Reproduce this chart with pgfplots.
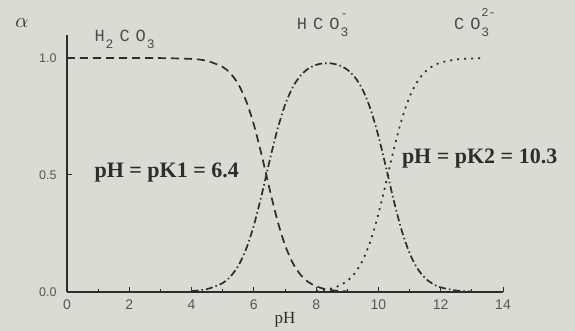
\documentclass[border=0pt]{standalone}
\usepackage{fontspec}
\setmainfont{Liberation Serif}
\setsansfont{Liberation Sans}
\newfontfamily\speciesfont{Liberation Mono}
\usepackage{pgfplots}
\pgfplotsset{compat=1.18}

\definecolor{paper}{RGB}{219,219,212}
\definecolor{ink}{RGB}{45,45,45}

% species labels: wide letter gaps, lowered subscripts, raised charges
\newcommand{\gap}{\kern6pt}
\newcommand{\chemsub}[1]{\kern1pt\raisebox{-0.75ex}{\fontsize{13}{13}\selectfont #1}}
\newcommand{\chemsubsup}[2]{\kern1pt\rlap{\raisebox{-0.85ex}{\fontsize{13}{13}\selectfont #1}}\raisebox{1.35ex}{\fontsize{12}{12}\selectfont #2}}

% distribution of carbonate species, pK1 = 6.4, pK2 = 10.3
\pgfplotstableread{
pH    a0
0     1.0000
1     1.0000
2     0.9999
3     0.9996
4     0.9960
4.5   0.9876
5     0.9617
5.25  0.9339
5.5   0.8882
5.75  0.8171
6     0.7152
6.25  0.5855
6.5   0.4427
6.75  0.3087
7     0.2007
7.25  0.1237
7.5   0.0735
7.75  0.0426
8     0.0244
8.25  0.0138
8.5   0.0078
8.75  0.0043
9     0.0024
}\tblHtwoCOthree

\pgfplotstableread{
pH    a1
4     0.0040
4.5   0.0124
5     0.0383
5.25  0.0661
5.5   0.1118
5.75  0.1829
6     0.2848
6.25  0.4145
6.5   0.5572
6.75  0.6911
7     0.7989
7.25  0.8755
7.5   0.9251
7.75  0.9547
8     0.9707
8.25  0.9775
8.5   0.9767
8.75  0.9684
9     0.9500
9.25  0.9170
9.5   0.8626
9.75  0.7798
10    0.6660
10.25 0.5288
10.5  0.3869
10.75 0.2619
11    0.1663
11.25 0.1009
11.5  0.0594
11.75 0.0343
12    0.0196
12.5  0.0063
13    0.0020
}\tblHCOthree

\pgfplotstableread{
pH    a2
8     0.0049
8.25  0.0087
8.5   0.0155
8.75  0.0273
9     0.0476
9.25  0.0817
9.5   0.1367
9.75  0.2198
10    0.3338
10.25 0.4712
10.5  0.6131
10.75 0.7381
11    0.8337
11.25 0.8991
11.5  0.9406
11.75 0.9657
12    0.9804
12.5  0.9937
13    0.9980
13.3  0.9990
}\tblCOthree

\begin{document}
\begin{tikzpicture}
\fill[paper] (-67pt,-39pt) rectangle (508pt,292pt);
\begin{axis}[
  at={(0,0)}, anchor=origin,
  scale only axis,
  width=436pt, height=257.4pt,
  xmin=0, xmax=14, ymin=0, ymax=1.1,
  axis x line=bottom, axis y line=left,
  x axis line style={-, line width=1.3pt, draw=ink},
  y axis line style={-, line width=1.9pt, draw=ink},
  xtick={0,2,...,14}, minor xtick={1,3,...,13},
  ytick={0,0.5,1.0},
  tick align=inside,
  major tick length=5pt, minor tick length=3pt,
  tick style={line width=1pt, draw=ink},
  /pgf/number format/assume math mode=true,
  xticklabel style={font=\sffamily\fontsize{14}{14}\selectfont, text=ink!80, yshift=-4pt},
  yticklabel style={font=\sffamily\fontsize{12.5}{12.5}\selectfont, text=ink!80,
    /pgf/number format/fixed, /pgf/number format/fixed zerofill,
    /pgf/number format/precision=1, xshift=-7pt},
  xlabel={pH},
  xlabel style={font=\fontsize{17}{17}\selectfont, text=ink, yshift=4pt},
  clip=false,
  every axis plot/.append style={ink, line width=1.7pt, no marks, smooth},
]
\addplot[dash pattern=on 8pt off 5pt] table[x=pH, y=a0] {\tblHtwoCOthree};
\addplot[dash pattern=on 7pt off 3pt on 1.5pt off 3pt] table[x=pH, y=a1] {\tblHCOthree};
\addplot[dash pattern=on 2pt off 5pt] table[x=pH, y=a2] {\tblCOthree};

\node[font=\fontsize{21}{21}\selectfont, text=ink] at (axis cs:-1.45,1.15) {$\alpha$};

\node[font=\speciesfont\fontsize{17}{17}\selectfont, text=ink!85] at (axis cs:1.85,1.08)
  {H\chemsub{2}\gap C\gap O\chemsub{3}};
\node[font=\speciesfont\fontsize{17}{17}\selectfont, text=ink!85] at (axis cs:8.2,1.14)
  {H\gap C\gap O\chemsubsup{3}{-}};
\node[font=\speciesfont\fontsize{17}{17}\selectfont, text=ink!85] at (axis cs:13.1,1.15)
  {C\gap O\chemsubsup{3}{2-}};

\node[font=\bfseries\fontsize{22}{22}\selectfont, text=ink] at (axis cs:3.2,0.51) {pH = pK1 = 6.4};
\node[font=\bfseries\fontsize{22}{22}\selectfont, text=ink] at (axis cs:13.25,0.57) {pH = pK2 = 10.3};
\end{axis}
\end{tikzpicture}
\end{document}
